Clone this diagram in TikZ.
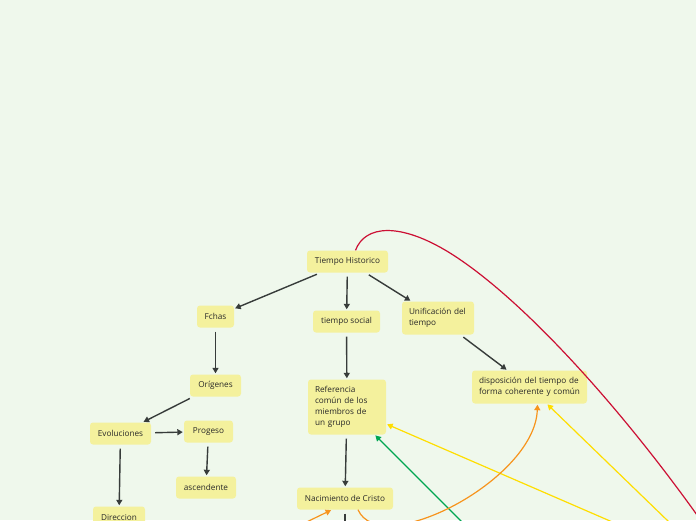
\documentclass[tikz,border=0pt]{standalone}
\usepackage{fontspec}
\setmainfont{Open Sans}
\usetikzlibrary{arrows.meta}
\definecolor{bg}{RGB}{239,248,236}
\definecolor{nodefill}{RGB}{244,241,157}
\definecolor{txt}{RGB}{40,40,40}
\definecolor{edge}{RGB}{55,60,58}
\definecolor{redc}{RGB}{204,16,52}
\definecolor{yelc}{RGB}{255,222,0}
\definecolor{grnc}{RGB}{0,166,81}
\definecolor{orac}{RGB}{247,148,29}
\begin{document}
\begin{tikzpicture}[x=1pt,y=-1pt,
  font=\fontsize{8.2}{11}\selectfont,
  box/.style={fill=nodefill, rounded corners=3pt, text=txt, inner xsep=2pt, inner ysep=0pt, minimum height=22pt},
  mbox/.style={box, inner xsep=7pt, align=left},
  tip/.style={-{Triangle[length=5.5pt,width=6pt]}},
  conn/.style={draw=edge, line width=1.4pt, tip, shorten <=4pt, shorten >=1pt},
  cconn/.style={line width=1.2pt, tip, shorten >=1pt}]
\useasboundingbox (0,0) rectangle (696,520);
\fill[bg] (0,0) rectangle (696,520);
\clip (0,0) rectangle (696,520);

% nodes
\node[box, minimum width=81pt] (TH) at (347.5,261.5) {Tiempo Historico};
\node[box, minimum width=37pt] (fchas) at (215.5,316.5) {Fchas};
\node[box, minimum width=67pt] (ts) at (346.5,321.5) {tiempo social};
\node[mbox, text width=58pt, minimum height=33pt] (unif) at (438,318) {Unificación del\\tiempo};
\node[box, minimum width=51pt] (orig) at (215.5,385.5) {Orígenes};
\node[mbox, text width=64pt, minimum height=55pt] (ref) at (347,407) {Referencia\\común de los\\miembros de\\un grupo};
\node[mbox, text width=101pt, minimum height=33pt] (disp) at (529.5,387) {disposición del tiempo de\\forma coherente y común};
\node[box, minimum width=61pt] (evol) at (120.5,433.5) {Evoluciones};
\node[box, minimum width=49pt] (prog) at (208.5,431.5) {Progeso};
\node[box, minimum width=60pt] (asc) at (206,487.5) {ascendente};
\node[box, minimum width=52pt] (dir) at (119,517.5) {Direccion};
\node[box, minimum width=96pt] (nac) at (345,498.5) {Nacimiento de Cristo};

% off-picture ends
\coordinate (nacOut) at (345,545);
\coordinate (rEnd) at (720,548);
\coordinate (y1) at (700,560);
\coordinate (y2) at (700,552);
\coordinate (g1) at (480,540);
\coordinate (o2) at (290,530);

% dark connectors
\draw[conn] (TH) -- (fchas);
\draw[conn] (TH) -- (ts);
\draw[conn] (TH) -- (unif);
\draw[conn] (unif) -- (disp);
\draw[conn] (fchas) -- (orig);
\draw[conn] (ts) -- (ref);
\draw[conn] (orig) -- (evol);
\draw[conn] (evol) -- (prog);
\draw[conn] (evol) -- (dir);
\draw[conn] (prog) -- (asc);
\draw[conn] (ref) -- (nac);
\draw[conn] (nac) -- (nacOut);

% coloured connectors
\draw[redc, line width=1.2pt] ([xshift=8pt]TH.north) .. controls (365,225) and (400,222) .. (450,253)
   .. controls (530,303) and (640,430) .. (rEnd);
\draw[yelc, cconn] (y1) -- (ref);
\draw[yelc, cconn] (y2) -- (disp);
\draw[grnc, cconn] (g1) -- (ref);
\draw[orac, cconn] ([xshift=13pt]nac.south) .. controls (380,560) and (535,480) .. ([xshift=8pt]disp.south);
\draw[orac, cconn] (o2) -- ([xshift=-13pt]nac.south);
\end{tikzpicture}
\end{document}
